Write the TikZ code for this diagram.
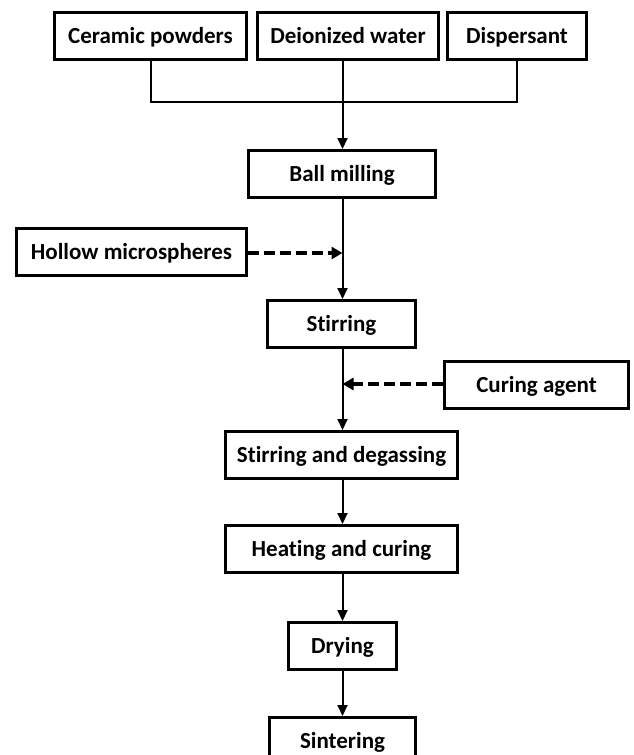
\documentclass[tikz,border=0pt]{standalone}
\usepackage{fontspec}
\setmainfont[Ligatures=NoCommon]{Carlito}
\usetikzlibrary{arrows.meta}
\begin{document}
\begin{tikzpicture}[x=1pt,y=-1pt,
  box/.style={draw, line width=3pt, inner sep=0pt, minimum height=47pt, text height=17pt, text depth=3pt, font=\fontsize{23}{26}\selectfont\bfseries},
  conn/.style={line width=2pt},
  flow/.style={line width=2pt, -{Triangle[length=11pt,width=10pt]}},
  dasharrow/.style={line width=3.5pt, dash pattern=on 11pt off 5pt, -{Triangle[length=11pt,width=12pt]}}]
\useasboundingbox (0,0) rectangle (633,755);
\node[box, minimum width=192pt] (cp) at (150.5,36) {Ceramic powders};
\node[box, minimum width=181pt] (dw) at (348,36) {Deionized water};
\node[box, minimum width=139pt] (ds) at (517,36) {Dispersant};
\node[box, minimum width=187pt] (bm) at (342,174) {Ball milling};
\node[box, minimum width=230pt] (hm) at (131.5,252) {Hollow microspheres};
\node[box, minimum width=148pt] (st) at (341.5,324) {Stirring};
\node[box, minimum width=184pt] (ca) at (536.5,385) {Curing agent};
\node[box, minimum width=232pt] (sd) at (341.5,455) {Stirring and degassing};
\node[box, minimum width=232pt] (hc) at (341.5,549) {Heating and curing};
\node[box, minimum width=108pt] (dr) at (342.5,646) {Drying};
\node[box, minimum width=146pt] (si) at (342.5,741) {Sintering};
\coordinate (j) at (342.5,102);
\coordinate (m1) at (342.5,253);
\coordinate (m2) at (342.5,384);
\draw[conn] (cp.south) |- (j);
\draw[conn] (ds.south) |- (j);
\draw[conn] (j |- dw.south) -- (j);
\draw[flow] (j) -- (j |- bm.north);
\draw[flow] (j |- bm.south) -- (j |- st.north);
\draw[dasharrow] (hm.east |- m1) -- (m1);
\draw[flow] (j |- st.south) -- (j |- sd.north);
\draw[dasharrow] (ca.west |- m2) -- (m2);
\draw[flow] (j |- sd.south) -- (j |- hc.north);
\draw[flow] (j |- hc.south) -- (j |- dr.north);
\draw[flow] (j |- dr.south) -- (j |- si.north);
\end{tikzpicture}
\end{document}
